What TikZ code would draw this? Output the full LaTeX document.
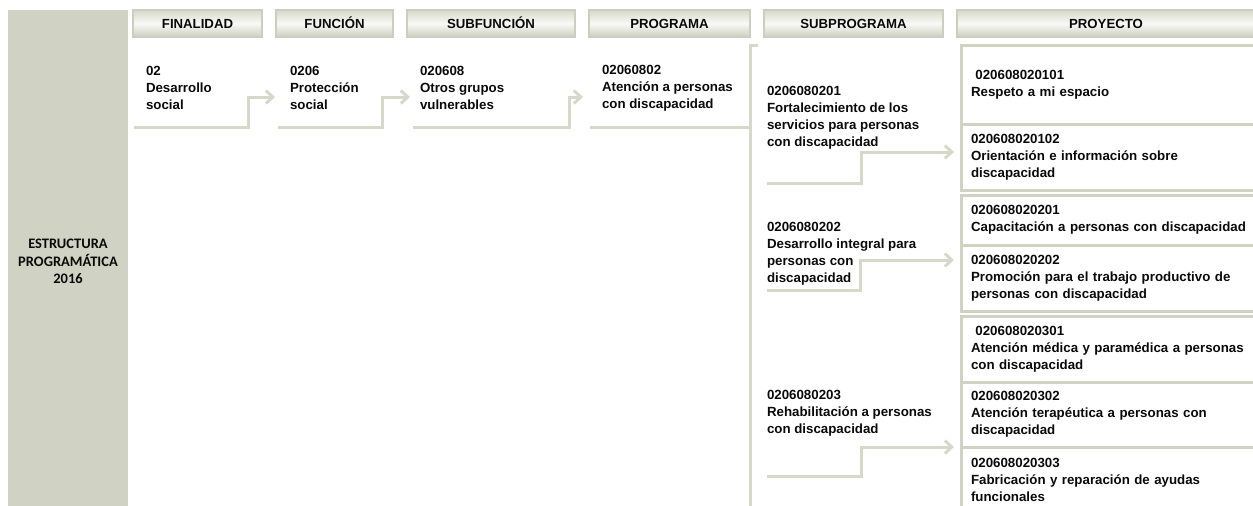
\documentclass[tikz,border=0pt]{standalone}
\usepackage{fontspec}
\setmainfont{Liberation Sans}
\newfontfamily\calibri{Carlito}
\usetikzlibrary{positioning, arrows.meta}

\definecolor{panelgray}{RGB}{208,211,195}
\definecolor{linkgray}{RGB}{214,216,202}
\definecolor{headtop}{RGB}{214,216,203}
\definecolor{headmid}{RGB}{249,249,246}
\definecolor{headbot}{RGB}{204,207,192}
\definecolor{inkgray}{RGB}{10,10,10}

\begin{document}
\begin{tikzpicture}[x=1pt, y=-1pt, node distance=14pt,
    every node/.style={inner sep=0pt, outer sep=0pt, text=inkgray},
    txt/.style={font=\fontsize{13.3}{17}\selectfont\bfseries, align=left, anchor=west},
    head/.style={draw=headbot, line width=1.2pt, top color=headtop, bottom color=headbot, middle color=headmid,
        minimum height=27pt, minimum width=#1, text height=9.5pt, text depth=0pt,
        font=\fontsize{13.2}{16}\selectfont\bfseries},
    prjbox/.style={draw=panelgray, line width=3pt, minimum width=300pt, minimum height=#1, text width=285pt,
        inner xsep=10pt, align=left, font=\fontsize{13.3}{17}\selectfont\bfseries},
    link/.style={draw=linkgray, line width=3pt, -{Straight Barb[length=7pt, width=13pt]}},
    guide/.style={draw=linkgray, line width=3pt},
    stepto/.style={to path={-- ++(#1,0) |- (\tikztotarget)}}]
    \useasboundingbox (0,0) rectangle (1253,506);
    \clip (0,0) rectangle (1253,506);

    % Title panel
    \node (title) [fill=panelgray, minimum width=120pt, minimum height=503pt, anchor=north west, align=center,
        font=\calibri\fontsize{14.5}{17.5}\selectfont\bfseries] at (8,10) {ESTRUCTURA\\PROGRAMÁTICA\\2016};

    % Column headers
    \node (h-fin) [head=129pt, anchor=north west] at (133,10) {FINALIDAD};
    \node (h-func) [head=117pt, right=of h-fin] {FUNCIÓN};
    \node (h-subf) [head=168pt, right=of h-func] {SUBFUNCIÓN};
    \node (h-prog) [head=161pt, right=of h-subf] {PROGRAMA};
    \node (h-sub) [head=179pt, right=of h-prog] {SUBPROGRAMA};
    \node (h-prj) [head=298pt, right=of h-sub] {PROYECTO};

    % Proyectos
    \node (prj1) [prjbox=79pt, anchor=north west] at (961,45) {\ 020608020101\\Respeto a mi espacio};
    \node (prj2) [prjbox=66pt, below=0pt of prj1] {020608020102\\Orientación e información sobre\\discapacidad};
    \node (prj3) [prjbox=50pt, below=5pt of prj2] {020608020201\\Capacitación a personas con discapacidad};
    \node (prj4) [prjbox=66pt, below=0pt of prj3] {020608020202\\Promoción para el trabajo productivo de\\personas con discapacidad};
    \node (prj5) [prjbox=66pt, below=5pt of prj4] {\ 020608020301\\Atención médica y paramédica a personas\\con discapacidad};
    \node (prj6) [prjbox=65pt, below=0pt of prj5] {020608020302\\Atención terapéutica a personas con\\discapacidad};
    \node (prj7) [prjbox=66pt, below=0pt of prj6] {020608020303\\Fabricación y reparación de ayudas\\funcionales};

    % Finalidad to programa
    \node (fin) [txt] at (146,88) {02\\Desarrollo\\social};
    \node (func) [txt] at (290,88) {0206\\Protección\\social};
    \node (subf) [txt] at (420,88) {020608\\Otros grupos\\vulnerables};
    \node (prog) [txt] at (602,88) {02060802\\Atención a personas\\con discapacidad};

    % Subprogramas
    \node (sub1) [txt] at (767,118) {0206080201\\Fortalecimiento de los\\servicios para personas\\con discapacidad};
    \node (sub2) [txt] at (767,254) {0206080202\\Desarrollo integral para\\personas con\\discapacidad};
    \node (sub3) [txt] at (767,413) {0206080203\\Rehabilitación a personas\\con discapacidad};

    % Connectors
    \coordinate (fin-foot) at (134,127);
    \coordinate (func-foot) at (278,127);
    \coordinate (subf-foot) at (413,127);
    \coordinate (prog-foot) at (590,127);
    \coordinate (brace-top) at (758,45);
    \coordinate (brace-end) at (750,515);
    \draw[link] (fin-foot) to[stepto=114] ([xshift=-15pt, yshift=-9pt]func.west);
    \draw[link] (func-foot) to[stepto=104] ([xshift=-10pt, yshift=-9pt]subf.west);
    \draw[link] (subf-foot) to[stepto=156] ([xshift=-19pt, yshift=-9pt]prog.west);
    \draw[guide] (brace-top) -| (brace-end);
    \draw[guide] (prog-foot) -- (prog-foot -| brace-end);

    \coordinate (sub1-foot) at (767,183);
    \coordinate (sub2-foot) at (767,290);
    \coordinate (sub3-foot) at (767,476);
    \draw[link] (sub1-foot) to[stepto=94] ([xshift=-7pt, yshift=5pt]prj2.west);
    \draw[link] (sub2-foot) to[stepto=93] ([xshift=-7pt, yshift=18pt]prj4.west);
    \draw[link] (sub3-foot) to[stepto=94] ([xshift=-7pt]prj6.south west);
\end{tikzpicture}
\end{document}
